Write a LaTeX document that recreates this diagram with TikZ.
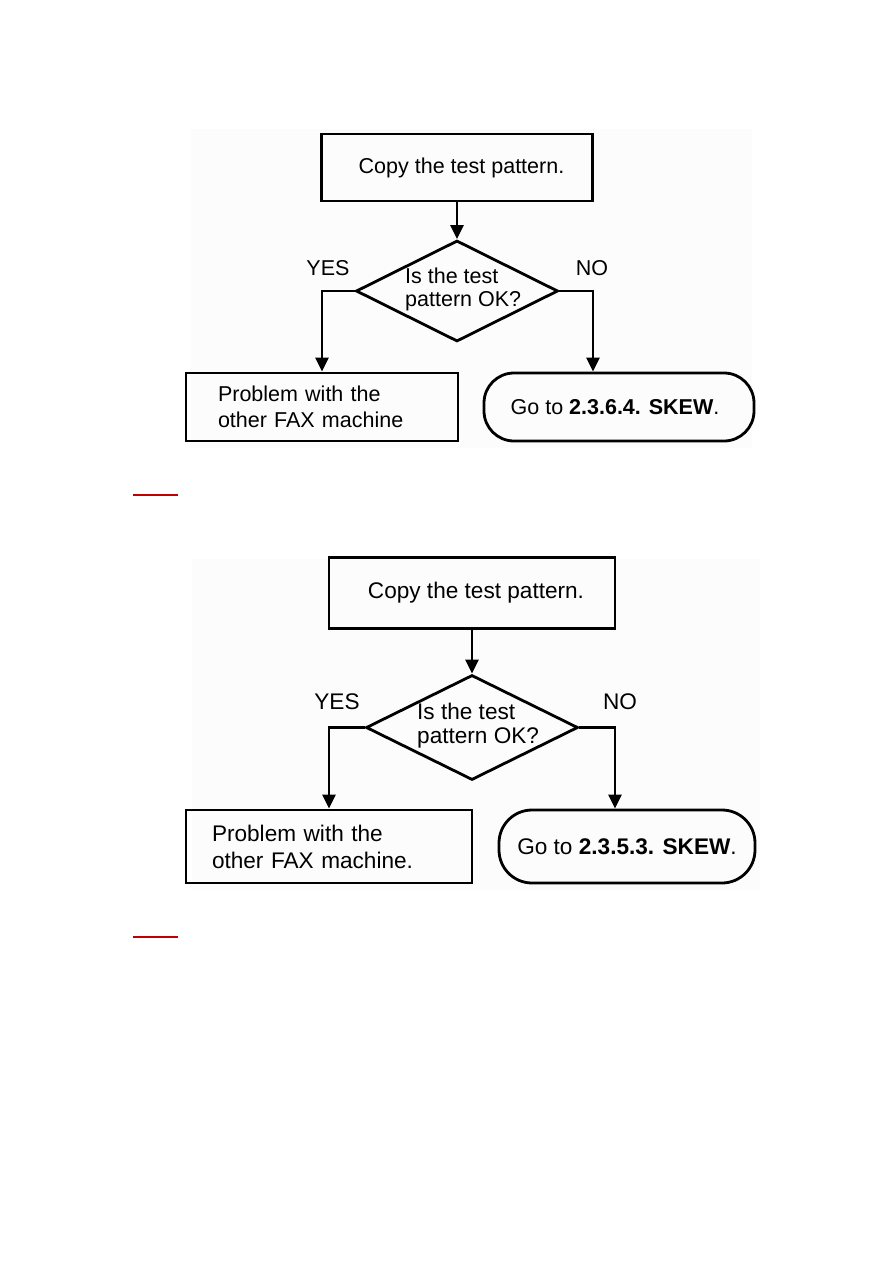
\documentclass[tikz,border=0pt]{standalone}
\usepackage{fontspec}
\setmainfont{Liberation Sans}
\usetikzlibrary{arrows.meta,shapes.geometric}
\tikzset{
  flow/.style={line width=2.8pt, line join=miter},
  arr/.style={flow, -{Triangle[length=14pt,width=13pt]}},
  boxA/.style={draw, flow, rectangle, inner sep=0pt, align=center},
  endA/.style={draw, flow, rectangle, inner sep=0pt, align=center},
  decA/.style={draw, flow, diamond, inner sep=0pt},
  lbl/.style={inner sep=0pt, align=center},
  fA/.style={font=\fontsize{21.5}{26}\selectfont},
  fB/.style={font=\fontsize{22.6}{27}\selectfont},
  redline/.style={draw=red!75!black, line width=1.3pt}
}
\begin{document}
\begin{tikzpicture}[x=1pt,y=-1pt]
\useasboundingbox (0,0) rectangle (893,1263);
\fill[white] (0,0) rectangle (893,1263);
% faint scan backgrounds
\fill[black!1] (191,129) rectangle (752,448);
\fill[black!1] (192,559) rectangle (760,890);

% ---------- Diagram 1 ----------
\node[boxA, fA, minimum width=271pt, minimum height=67pt] (top1) at (457,167.5) {\hspace*{9pt}Copy the test pattern.};
\node[decA, minimum width=202pt, minimum height=101pt] (d1) at (457,291) {};
\node[lbl, align=left, anchor=west, font=\fontsize{21.5}{23}\selectfont] (d1t) at (405,289) {Is the test\\pattern OK?};
\node[lbl, fA] (yes1) at (328,268) {YES};
\node[lbl, fA] (no1) at (592,268) {NO};
\node[boxA, fA, minimum width=272pt, minimum height=68pt, text width=208pt, align=left] (l1) at (322,407) {Problem with the\\other FAX machine};
\node[endA, fA, minimum width=270pt, minimum height=68pt, rounded corners=30pt] (r1) at (619,407) {Go to \textbf{2.3.6.4. SKEW}.\hspace*{8pt}};
\draw[arr] (top1.south) -- (d1.north);
\draw[arr] (d1.west) -| (l1.north);
\draw[arr] (d1.east) -| ([xshift=-26pt]r1.north);
\draw[redline] (133,495) -- (178,495);

% ---------- Diagram 2 ----------
\node[boxA, fB, minimum width=286pt, minimum height=71pt] (top2) at (472,593) {\hspace*{8pt}Copy the test pattern.};
\node[decA, minimum width=212pt, minimum height=105pt] (d2) at (472,727.5) {};
\node[lbl, align=left, anchor=west, font=\fontsize{22.6}{24}\selectfont] (d2t) at (417,726) {Is the test\\pattern OK?};
\node[lbl, fB] (yes2) at (337,702) {YES};
\node[lbl, fB] (no2) at (620,702) {NO};
\node[boxA, fB, minimum width=286pt, minimum height=73pt, text width=234pt, align=left] (l2) at (329,846.5) {Problem with the\\other FAX machine.};
\node[endA, fB, minimum width=256pt, minimum height=73pt, rounded corners=33pt] (r2) at (627,846.5) {Go to \textbf{2.3.5.3. SKEW}.};
\draw[arr] (top2.south) -- (d2.north);
\draw[arr] (d2.west) -| (l2.north);
\draw[arr] (d2.east) -| ([xshift=-12pt]r2.north);
\draw[redline] (133,937) -- (178,937);
\end{tikzpicture}
\end{document}
